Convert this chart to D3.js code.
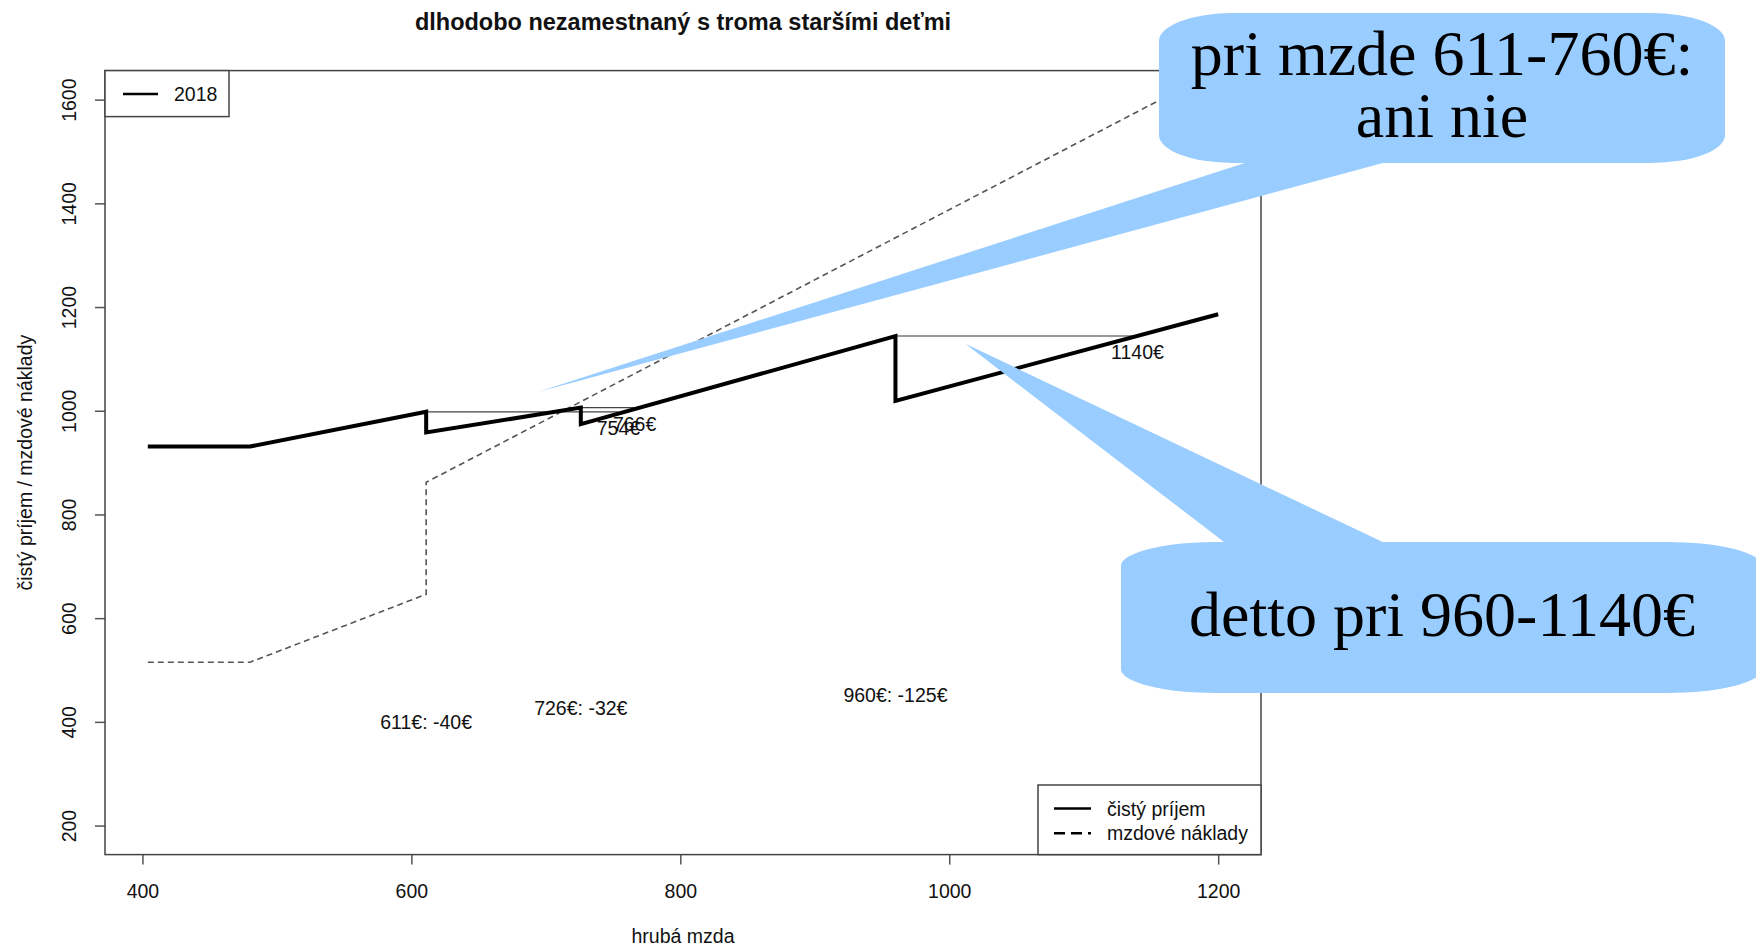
<!DOCTYPE html>
<html>
<head>
<meta charset="utf-8"/>
<title>dlhodobo nezamestnaný s troma staršími deťmi</title>
<script src="https://cdnjs.cloudflare.com/ajax/libs/d3/7.8.5/d3.min.js"></script>
<style>
html, body {
    margin: 0;
    padding: 0;
    background: #fff;
}
svg {
    display: block;
}
text {
    font-family: "Liberation Sans", Arial, sans-serif;
    fill: #111;
}
</style>
</head>
<body>

<svg id="chart"></svg>

<script>

// Net income (thick line) against gross wage.
const grossWage = [404, 480, 611, 611, 726, 726, 960, 960, 1200];
const netIncome = [931, 931, 998, 958, 1006, 974, 1144, 1019, 1186];

// Wage costs of the employer (dashed line).
const costGross = [404, 480, 611, 611, 1200];
const wageCosts = [515, 515, 646, 862, 1658];

// Each drop: where it starts, at what level, and where that level is reached again.
const dropFrom = [611, 726, 960];
const dropLevel = [998, 1006, 1144];
const recoverAt = [754, 766, 1140];
const recoverLabels = ["754€", "766€", "1140€"];

// Size of each drop, written low in the plot.
const dropLabels = ["611€: -40€", "726€: -32€", "960€: -125€"];
const dropLabelY = [400, 426, 452];

const xTicks = [400, 600, 800, 1000, 1200];
const yTicks = [200, 400, 600, 800, 1000, 1200, 1400, 1600];

// Speech bubbles pasted over the chart. Tips point at data coordinates.
const bubbleLines = [["pri mzde 611-760€:", "ani nie"], ["detto pri 960-1140€"]];
const bubbleTipX = [694, 1012];
const bubbleTipY = [1036, 1129];

// Sizes.
const W = 1756, H = 949;
const plot = {left: 105, right: 1261, top: 70.6, bottom: 854.6};
const baseFont = 19.5;

const svg = d3.select("#chart")
    .attr("width", W)
    .attr("height", H);

// Scales (R style: data range padded by 4%).
const xr = [404, 1200], yr = [200, 1600];
const xpad = (xr[1] - xr[0]) * 0.04, ypad = (yr[1] - yr[0]) * 0.04;
const x = d3.scaleLinear().domain([xr[0] - xpad, xr[1] + xpad]).range([plot.left, plot.right]);
const y = d3.scaleLinear().domain([yr[0] - ypad, yr[1] + ypad]).range([plot.bottom, plot.top]);

svg.append("clipPath").attr("id", "plotclip")
    .append("rect")
    .attr("x", plot.left).attr("y", plot.top)
    .attr("width", plot.right - plot.left)
    .attr("height", plot.bottom - plot.top);

const g = svg.append("g").attr("clip-path", "url(#plotclip)");

const line = d3.line()
    .x(function(d) { return x(d[0]); })
    .y(function(d) { return y(d[1]); });

// Wage costs, dashed.
g.append("path")
    .attr("d", line(d3.zip(costGross, wageCosts)))
    .attr("fill", "none")
    .attr("stroke", "#555")
    .attr("stroke-width", 1.6)
    .attr("stroke-dasharray", "6,4");

// Horizontal lines showing where the drop is recovered.
for (let i = 0; i < dropFrom.length; i++) {
    g.append("path")
        .attr("d", line([[dropFrom[i], dropLevel[i]], [recoverAt[i], dropLevel[i]]]))
        .attr("fill", "none")
        .attr("stroke", i < 2 ? "#444" : "#999")
        .attr("stroke-width", i < 2 ? 1.3 : 2);
}

// Net income, thick.
g.append("path")
    .attr("d", line(d3.zip(grossWage, netIncome)))
    .attr("fill", "none")
    .attr("stroke", "#000")
    .attr("stroke-width", 4)
    .attr("stroke-linejoin", "miter");

// Labels for recovery points.
for (let i = 0; i < recoverAt.length; i++) {
    svg.append("text")
        .attr("x", x(recoverAt[i]))
        .attr("y", y(dropLevel[i] - 31))
        .attr("text-anchor", "middle")
        .attr("dominant-baseline", "central")
        .style("font-size", baseFont + "px")
        .text(recoverLabels[i]);
}

// Labels for drop sizes.
for (let i = 0; i < dropFrom.length; i++) {
    svg.append("text")
        .attr("x", x(dropFrom[i]))
        .attr("y", y(dropLabelY[i]))
        .attr("text-anchor", "middle")
        .attr("dominant-baseline", "central")
        .style("font-size", baseFont + "px")
        .text(dropLabels[i]);
}

// X axis.
const xAxis = svg.append("g")
    .attr("transform", "translate(0," + plot.bottom + ")")
    .call(d3.axisBottom(x).tickValues(xTicks).tickSize(10).tickPadding(0).tickFormat(d3.format("d")));
xAxis.select(".domain").remove();
xAxis.selectAll("line").attr("stroke", "#555").attr("stroke-width", 1.5);
xAxis.selectAll("text")
    .attr("y", 36)
    .attr("dy", null)
    .attr("dominant-baseline", "central")
    .style("font-size", baseFont + "px")
    .style("font-family", null);

// Y axis, labels parallel to the axis.
const yAxis = svg.append("g")
    .attr("transform", "translate(" + plot.left + ",0)")
    .call(d3.axisLeft(y).tickValues(yTicks).tickSize(10).tickFormat(d3.format("d")));
yAxis.select(".domain").remove();
yAxis.selectAll("line").attr("stroke", "#555").attr("stroke-width", 1.5);
yAxis.selectAll("text")
    .attr("x", 0)
    .attr("dy", null)
    .attr("text-anchor", "middle")
    .attr("dominant-baseline", "central")
    .attr("transform", "translate(-36,0) rotate(-90)")
    .style("font-size", baseFont + "px")
    .style("font-family", null);

// Plot box.
svg.append("rect")
    .attr("x", plot.left).attr("y", plot.top)
    .attr("width", plot.right - plot.left)
    .attr("height", plot.bottom - plot.top)
    .attr("fill", "none")
    .attr("stroke", "#444")
    .attr("stroke-width", 1.5);

// Titles.
svg.append("text")
    .attr("x", (plot.left + plot.right) / 2)
    .attr("y", 22)
    .attr("text-anchor", "middle")
    .attr("dominant-baseline", "central")
    .style("font-size", "23.5px")
    .style("font-weight", "bold")
    .text("dlhodobo nezamestnaný s troma staršími deťmi");

svg.append("text")
    .attr("x", (plot.left + plot.right) / 2)
    .attr("y", 936)
    .attr("text-anchor", "middle")
    .attr("dominant-baseline", "central")
    .style("font-size", baseFont + "px")
    .text("hrubá mzda");

svg.append("text")
    .attr("transform", "translate(25," + ((plot.top + plot.bottom) / 2) + ") rotate(-90)")
    .attr("text-anchor", "middle")
    .attr("dominant-baseline", "central")
    .style("font-size", baseFont + "px")
    .text("čistý príjem / mzdové náklady");

// Legend, top left.
const leg1 = svg.append("g");
leg1.append("rect")
    .attr("x", plot.left).attr("y", plot.top)
    .attr("width", 124).attr("height", 46)
    .attr("fill", "#fff").attr("stroke", "#444").attr("stroke-width", 1.5);
leg1.append("line")
    .attr("x1", 123).attr("x2", 158).attr("y1", 94).attr("y2", 94)
    .attr("stroke", "#000").attr("stroke-width", 2.5);
leg1.append("text")
    .attr("x", 174).attr("y", 94)
    .attr("dominant-baseline", "central")
    .style("font-size", baseFont + "px")
    .text("2018");

// Legend, bottom right.
const legendNames = ["čistý príjem", "mzdové náklady"];
const leg2 = svg.append("g");
leg2.append("rect")
    .attr("x", 1038).attr("y", 785)
    .attr("width", plot.right - 1038).attr("height", plot.bottom - 785)
    .attr("fill", "#fff").attr("stroke", "#444").attr("stroke-width", 1.5);
legendNames.forEach(function(name, i) {
    const ly = 808.6 + i * 24.7;
    leg2.append("line")
        .attr("x1", 1054).attr("x2", 1091).attr("y1", ly).attr("y2", ly)
        .attr("stroke", "#000").attr("stroke-width", 2.5)
        .attr("stroke-dasharray", i == 1 ? "11,6" : null);
    leg2.append("text")
        .attr("x", 1107).attr("y", ly)
        .attr("dominant-baseline", "central")
        .style("font-size", baseFont + "px")
        .text(name);
});

// Speech bubbles on top.
const bubbleBox = [
    {x0: 1159, y0: 13, x1: 1725, y1: 163, rx: 74, ry: 28, b0: 1254, b1: 1394, by: 160, baselines: [75, 137]},
    {x0: 1121, y0: 542, x1: 1762, y1: 693, rx: 95, ry: 24, b0: 1228, b1: 1389, by: 545, baselines: [636]}
];
bubbleBox.forEach(function(b, i) {
    const bg = svg.append("g");
    bg.append("rect")
        .attr("x", b.x0).attr("y", b.y0)
        .attr("width", b.x1 - b.x0).attr("height", b.y1 - b.y0)
        .attr("rx", b.rx).attr("ry", b.ry)
        .attr("fill", "#99ccff");
    bg.append("polygon")
        .attr("points", [[b.b0, b.by], [b.b1, b.by], [x(bubbleTipX[i]), y(bubbleTipY[i])]].join(" "))
        .attr("fill", "#99ccff");
    bubbleLines[i].forEach(function(t, j) {
        bg.append("text")
            .attr("x", 1442)
            .attr("y", b.baselines[j])
            .attr("text-anchor", "middle")
            .style("font-family", "'Liberation Serif', 'Times New Roman', serif")
            .style("font-size", "64px")
            .style("fill", "#000")
            .text(t);
    });
});

</script>

</body>
</html>
